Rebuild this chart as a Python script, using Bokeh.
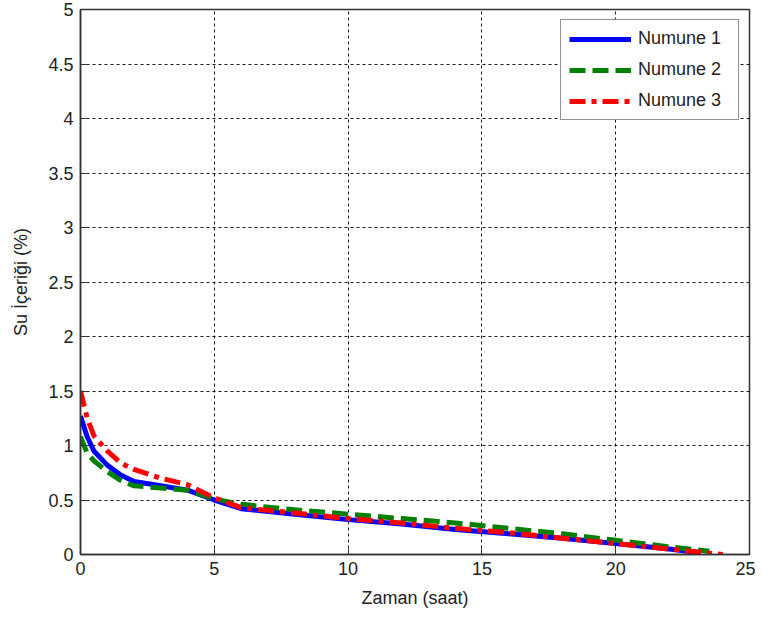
from bokeh.plotting import figure
from bokeh.models import Range1d, Legend, LegendItem, FixedTicker
from bokeh.embed import file_html
from bokeh.resources import INLINE

# Data
time_h = [0, 0.25, 0.5, 1, 1.5, 2, 3, 4, 5, 6, 8, 10, 12, 14, 16, 18, 20, 22, 23.0]
numune1 = [1.27, 1.08, 0.95, 0.82, 0.73, 0.67, 0.63, 0.59, 0.50, 0.42, 0.37, 0.32, 0.28, 0.23, 0.19, 0.15, 0.10, 0.05, 0.02]

time_h2 = [0, 0.25, 0.5, 1, 1.5, 2, 3, 4, 5, 6, 8, 10, 12, 14, 16, 18, 20, 22, 23.5]
numune2 = [1.08, 0.93, 0.86, 0.76, 0.68, 0.63, 0.61, 0.59, 0.51, 0.46, 0.41, 0.37, 0.33, 0.29, 0.24, 0.19, 0.13, 0.07, 0.03]

time_h3 = [0, 0.25, 0.5, 1, 1.5, 2, 3, 4, 5, 6, 8, 10, 12, 14, 16, 18, 20, 22, 24.0]
numune3 = [1.50, 1.25, 1.09, 0.95, 0.84, 0.78, 0.70, 0.64, 0.52, 0.43, 0.38, 0.33, 0.29, 0.24, 0.20, 0.15, 0.10, 0.05, 0.00]

x_ticks = [0, 5, 10, 15, 20, 25]
y_ticks = [0, 0.5, 1, 1.5, 2, 2.5, 3, 3.5, 4, 4.5, 5]
series_names = ["Numune 1", "Numune 2", "Numune 3"]

FONT = "Liberation Sans"

p = figure(
    frame_width=669, frame_height=545,
    min_border_left=80, min_border_top=9, min_border_right=6, min_border_bottom=5,
    x_range=Range1d(0, 25), y_range=Range1d(0, 5),
    output_backend="svg", toolbar_location=None,
    background_fill_color="white", border_fill_color="white",
)

p.outline_line_color = "#333333"
p.outline_line_width = 1.5

for ax in (p.xaxis[0], p.yaxis[0]):
    ax.major_tick_in = 6
    ax.major_tick_out = 0
    ax.minor_tick_line_color = None
    ax.axis_line_color = "#333333"
    ax.axis_line_width = 1.5
    ax.major_tick_line_color = "#333333"
    ax.major_label_text_font = FONT
    ax.major_label_text_font_size = "18px"
    ax.major_label_text_color = "#222222"
    ax.axis_label_text_font = FONT
    ax.axis_label_text_font_size = "18px"
    ax.axis_label_text_font_style = "normal"
    ax.axis_label_text_color = "#222222"

p.xaxis.ticker = FixedTicker(ticks=x_ticks)
p.yaxis.ticker = FixedTicker(ticks=y_ticks)
p.yaxis.major_label_overrides = {0: "0", 0.5: "0.5", 1: "1", 1.5: "1.5", 2: "2", 2.5: "2.5",
                                 3: "3", 3.5: "3.5", 4: "4", 4.5: "4.5", 5: "5"}
p.xaxis.axis_label = "Zaman (saat)"
p.yaxis.axis_label = "Su İçeriği (%)"
p.xaxis.major_label_standoff = 7
p.yaxis.major_label_standoff = 7
p.xaxis.axis_label_standoff = 10
p.yaxis.axis_label_standoff = 14

for g in (p.xgrid[0], p.ygrid[0]):
    g.grid_line_color = "black"
    g.grid_line_dash = "3 3"
    g.grid_line_width = 1
    g.grid_line_alpha = 0.9
p.xgrid.ticker = FixedTicker(ticks=x_ticks)
p.ygrid.ticker = FixedTicker(ticks=y_ticks)

r1 = p.line(time_h, numune1, line_color="blue", line_width=5)
r2 = p.line(time_h2, numune2, line_color="green", line_width=5, line_dash="16 7")
r3 = p.line(time_h3, numune3, line_color="red", line_width=5, line_dash="16 6 5 6")

legend = Legend(
    items=[LegendItem(label=series_names[0], renderers=[r1]),
           LegendItem(label=series_names[1], renderers=[r2]),
           LegendItem(label=series_names[2], renderers=[r3])],
    location="top_right",
    glyph_width=62, glyph_height=20, label_width=92,
    label_text_font=FONT, label_text_font_size="18px", label_text_color="#222222",
    border_line_color="#222222", border_line_width=1.2,
    background_fill_color="white", background_fill_alpha=1,
    padding=8, spacing=10, margin=10, label_standoff=7,
)
p.add_layout(legend)

open("out.html", "w").write(file_html(p, INLINE))
